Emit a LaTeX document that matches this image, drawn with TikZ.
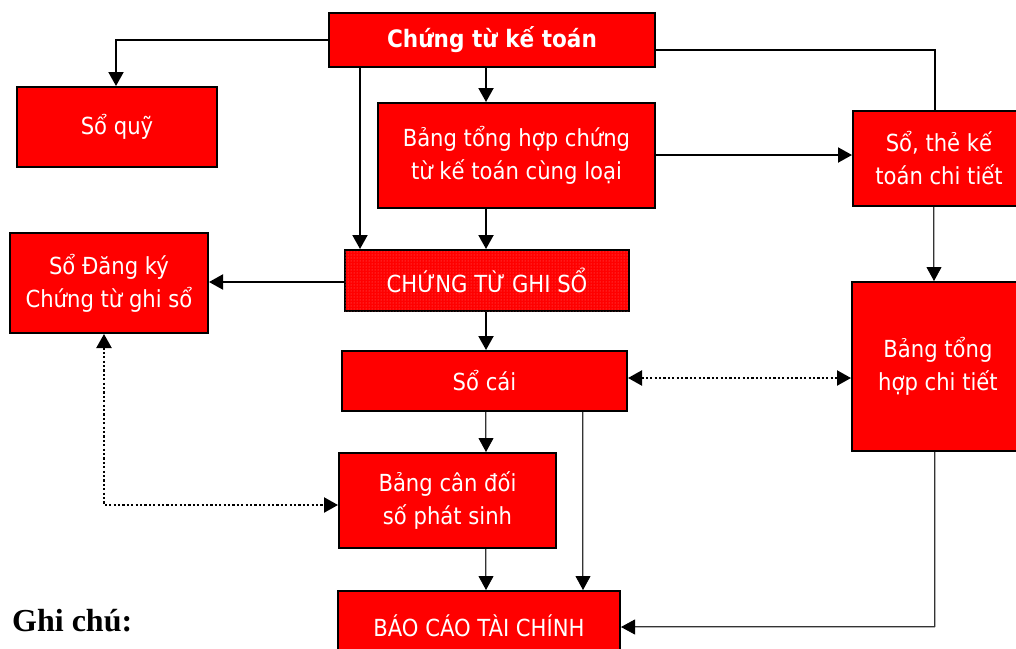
\documentclass[tikz,border=0pt]{standalone}
\usepackage{fontspec}
\setmainfont{DejaVu Sans Condensed}
\newfontfamily\notefont{Liberation Serif}
\usetikzlibrary{arrows.meta,patterns}
\definecolor{boxred}{RGB}{255,0,0}
\tikzset{
  box/.style={draw=black, line width=2pt, fill=boxred, text=white, align=center,
    inner sep=0pt, font=\fontsize{23.5}{33}\selectfont},
  tip/.style={Triangle[length=14pt,width=15pt]},
  arr/.style={line width=2pt, -{Triangle[length=14pt,width=15pt]}},
  plain/.style={line width=2pt},
  grayarr/.style={draw=gray!40!black, double=gray!60, double distance=0.8pt, line width=0.8pt,
    -{Triangle[length=14pt,width=15pt,fill=black,color=black]}},
  grayline/.style={draw=gray!40!black, double=gray!60, double distance=0.8pt, line width=0.8pt},
  dotarr/.style={line width=2.2pt, dash pattern=on 2.2pt off 2.2pt,
    {Triangle[length=14pt,width=15pt]}-{Triangle[length=14pt,width=15pt]}},
}
\begin{document}
\begin{tikzpicture}[x=1pt,y=-1pt]
\useasboundingbox (0,0) rectangle (1016,648);
\clip (0,0) rectangle (1016,648);
\node[box, minimum width=326pt, minimum height=54pt, font=\fontsize{24}{33}\selectfont\bfseries] (ctkt) at (492,40) {Chứng từ kế toán};
\node[box, minimum width=200pt, minimum height=80pt] (soquy) at (117,127) {Sổ quỹ};
\node[box, minimum width=277pt, minimum height=105pt] (bth) at (516.5,155.5) {Bảng tổng hợp chứng\\từ kế toán cùng loại};
\node[box, minimum width=172pt, minimum height=95pt] (sothe) at (939,158.5) {Sổ, thẻ kế\\toán chi tiết};
\node[box, minimum width=172pt, minimum height=169pt] (bthct) at (938,366.5) {Bảng tổng\\hợp chi tiết};
\node[box, minimum width=198pt, minimum height=100pt] (sodk) at (109,283) {Sổ Đăng ký\\Chứng từ ghi sổ};
\node[box, minimum width=284pt, minimum height=61pt,
  postaction={pattern=dots, pattern color=red!55!white}] (ctgs) at (487,280.5) {CHỨNG TỪ GHI SỔ};
\node[box, minimum width=285pt, minimum height=60pt] (socai) at (484.5,381) {Sổ cái};
\node[box, minimum width=217pt, minimum height=95pt] (bcd) at (447.5,500.5) {Bảng cân đối\\số phát sinh};
\node[box, minimum width=282pt, minimum height=70pt, anchor=north] (bctc) at (479,590) {BÁO CÁO TÀI CHÍNH};
\node[anchor=base west, inner sep=0pt, font=\notefont\bfseries\fontsize{32}{36}\selectfont] (note) at (12,631) {Ghi chú:};

\coordinate (c1) at (116,40);
\coordinate (c2) at (935,50);
\coordinate (c3) at (935,627);
\coordinate (c4) at (104,505);
% connectors
\draw[arr] (ctkt.west |- c1) -- (c1) -- (soquy.north -| c1);
\draw[plain] (ctkt.east |- c2) -- (c2) -- (sothe.north -| c2);
\draw[arr] (ctkt.south -| 486,0) -- (bth.north -| 486,0);
\draw[arr] (ctkt.south -| 360,0) -- (ctgs.north -| 360,0);
\draw[arr] (bth.south -| 486,0) -- (ctgs.north -| 486,0);
\draw[arr] (bth.east |- 0,155) -- (sothe.west |- 0,155);
\draw[grayarr] (sothe.south -| 934,0) -- (bthct.north -| 934,0);
\draw[arr] (ctgs.west |- 0,282) -- (sodk.east |- 0,282);
\draw[arr] (ctgs.south -| 486,0) -- (socai.north -| 486,0);
\draw[dotarr] (socai.east |- 0,378) -- (bthct.west |- 0,378);
\draw[grayarr] (socai.south -| 486,0) -- (bcd.north -| 486,0);
\draw[grayarr] (socai.south -| 583,0) -- (bctc.north -| 583,0);
\draw[grayarr] (bcd.south -| 486,0) -- (bctc.north -| 486,0);
\draw[grayline] (bthct.south -| c3) -- (c3);
\draw[grayarr] (c3) -- (bctc.east |- c3);
\draw[dotarr] (sodk.south -| c4) -- (c4) -- (bcd.west |- c4);
\end{tikzpicture}
\end{document}
